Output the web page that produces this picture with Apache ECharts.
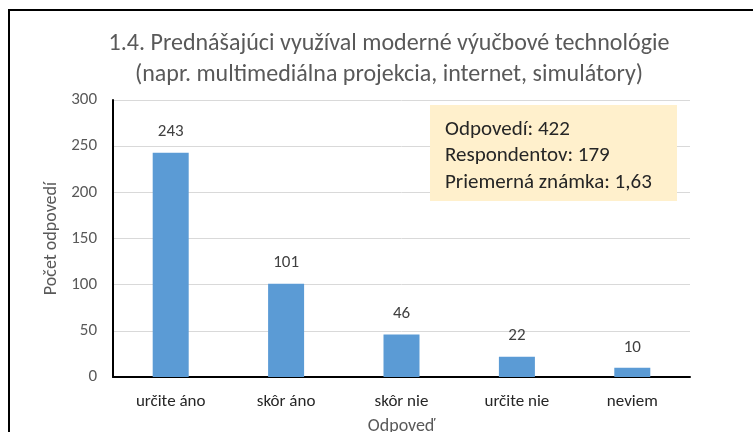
<!DOCTYPE html>
<html>
<head>
<meta charset="utf-8">
<script src="https://cdn.jsdelivr.net/npm/echarts@6/dist/echarts.min.js"></script>
<style>
  html, body { margin: 0; padding: 0; background: #fff; width: 753px; height: 432px; overflow: hidden; }
  #frame { position: absolute; left: 8px; top: 9px; width: 745px; height: 423px; box-sizing: border-box; border-left: 2px solid #000; border-top: 2px solid #000; }
  #main { position: absolute; left: 0; top: 0; width: 753px; height: 432px; }
</style>
</head>
<body>
<div id="frame"></div>
<div id="main"></div>
<script>
// data
var categories = ["určite áno", "skôr áno", "skôr nie", "určite nie", "neviem"];
var counts = [243, 101, 46, 22, 10];
var yTicks = [0, 50, 100, 150, 200, 250, 300];
var noteLines = ["Odpovedí: 422", "Respondentov: 179", "Priemerná známka: 1,63"];

var font = "Carlito, 'Liberation Sans', sans-serif";
var chartDom = document.getElementById("main");
var myChart = echarts.init(chartDom);
var option;

option = {
  animation: false,
  title: {
    text: "1.4. Prednášajúci využíval moderné výučbové technológie\n(napr. multimediálna projekcia, internet, simulátory)",
    left: 384,
    textAlign: "center",
    top: 23,
    textStyle: {
      fontFamily: font,
      fontSize: 24,
      fontWeight: "normal",
      color: "#595959",
      lineHeight: 31,
    },
  },
  grid: { left: 113, right: 63, top: 100, bottom: 55, outerBoundsMode: "none" },
  xAxis: {
    type: "category",
    data: categories,
    name: "Odpoveď",
    nameLocation: "middle",
    nameGap: 40,
    nameTextStyle: { fontFamily: font, fontSize: 18, color: "#595959" },
    axisLine: { lineStyle: { color: "#000", width: 2 } },
    axisTick: { show: false },
    axisLabel: { fontFamily: font, fontSize: 17, color: "#262626", margin: 16 },
  },
  yAxis: {
    type: "value",
    min: yTicks[0],
    max: yTicks[yTicks.length - 1],
    interval: 50,
    name: "Počet odpovedí",
    nameLocation: "middle",
    nameGap: 51,
    nameTextStyle: { fontFamily: font, fontSize: 18, color: "#595959" },
    axisLine: { show: true, lineStyle: { color: "#000", width: 2 } },
    axisTick: { show: false },
    axisLabel: { fontFamily: font, fontSize: 17, color: "#595959", margin: 16 },
    splitLine: { lineStyle: { color: "#d9d9d9", width: 1 } },
  },
  series: [
    {
      type: "bar",
      data: counts,
      barWidth: 36,
      itemStyle: { color: "#5b9bd5" },
      label: {
        show: true,
        position: "top",
        distance: 12,
        fontFamily: font,
        fontSize: 17,
        color: "#404040",
      },
    },
  ],
  graphic: [
    {
      type: "rect",
      left: 430,
      top: 105,
      shape: { width: 247, height: 96 },
      style: { fill: "#fff0cc" },
      z: 10,
    },
    {
      type: "text",
      left: 445,
      top: 116,
      style: {
        text: noteLines.join("\n"),
        fontFamily: font,
        fontSize: 21,
        lineHeight: 26.5,
        fill: "#262626",
      },
      z: 11,
    },
  ],
};

option && myChart.setOption(option);
</script>
</body>
</html>
